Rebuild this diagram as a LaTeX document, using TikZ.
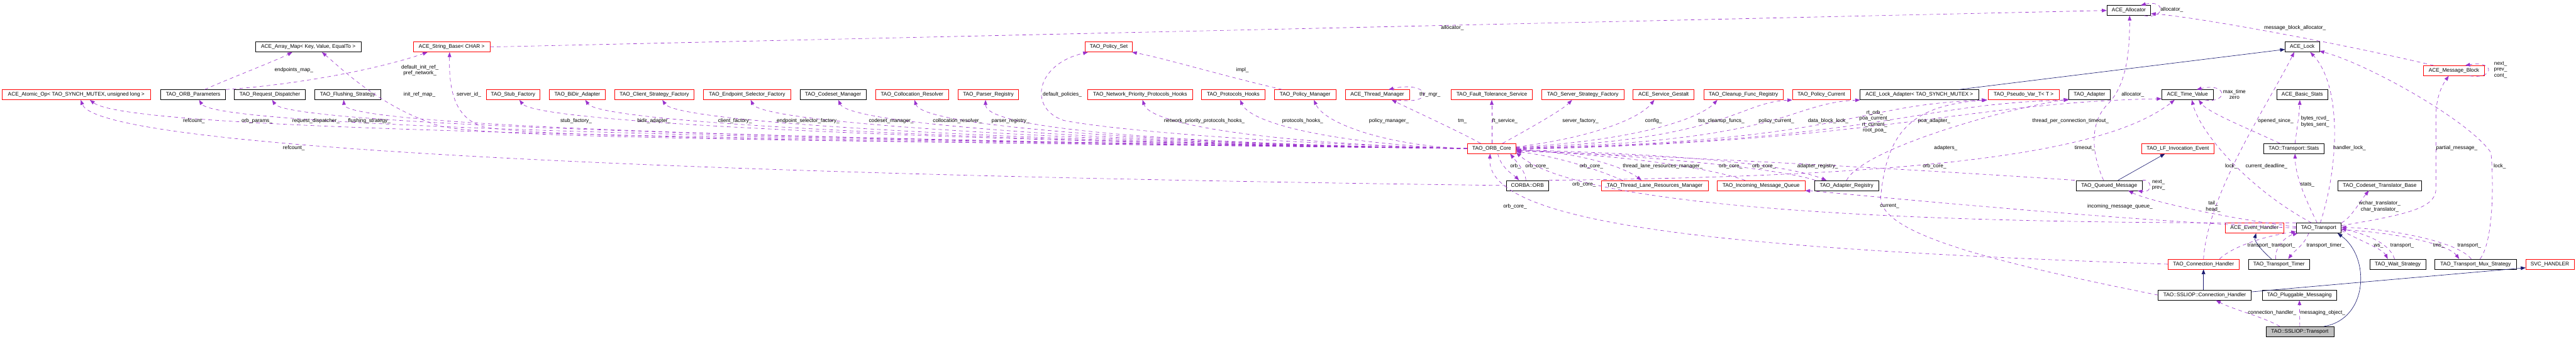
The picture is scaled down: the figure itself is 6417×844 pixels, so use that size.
\documentclass[tikz,border=0pt]{standalone}
\usepackage{fontspec}
\setmainfont{Liberation Sans}
\usetikzlibrary{arrows.meta}
\definecolor{usecol}{HTML}{9A32CD}
\definecolor{isacol}{HTML}{191970}
\definecolor{rootfill}{HTML}{BFBFBF}
\begin{document}
\begin{tikzpicture}[x=1pt, y=-1pt,
      box/.style={draw=black, line width=1pt, minimum height=25pt, inner sep=0pt, font=\fontsize{13}{15}\selectfont},
      redbox/.style={box, draw=red},
      rootbox/.style={box, fill=rootfill},
      member/.style={inner sep=0pt, align=center, font=\fontsize{13}{15}\selectfont},
      uses/.style={usecol, line width=1pt, dash pattern=on 9pt off 8pt, -{Triangle[length=12pt,width=9pt]}},
      isa/.style={isacol, line width=1pt, -{Triangle[length=12pt,width=9pt]}}
   ]
   \useasboundingbox (0,0) rectangle (6417,844);

   \node[box, minimum width=109pt] (allocator) at (5303,26) {ACE\_Allocator};
   \node[box, minimum width=264pt] (arraymap) at (768,117) {ACE\_Array\_Map< Key, Value, EqualTo >};
   \node[redbox, minimum width=191pt] (stringbase) at (1125,117) {ACE\_String\_Base< CHAR >};
   \node[redbox, minimum width=118pt] (policyset) at (2762,117) {TAO\_Policy\_Set};
   \node[box, minimum width=85pt] (acelock) at (5735,117) {ACE\_Lock};
   \node[redbox, minimum width=152pt] (msgblock) at (6113,176) {ACE\_Message\_Block};

   \node[redbox, minimum width=371pt] (atomic) at (190,236) {ACE\_Atomic\_Op< TAO\_SYNCH\_MUTEX, unsigned long >};
   \node[box, minimum width=162pt] (orbparams) at (481,236) {TAO\_ORB\_Parameters};
   \node[box, minimum width=176pt] (reqdisp) at (672,236) {TAO\_Request\_Dispatcher};
   \node[box, minimum width=164pt] (flushing) at (866,236) {TAO\_Flushing\_Strategy};
   \node[redbox, minimum width=134pt] (stubfac) at (1278,236) {TAO\_Stub\_Factory};
   \node[redbox, minimum width=139pt] (bidir) at (1438,236) {TAO\_BiDir\_Adapter};
   \node[redbox, minimum width=198pt] (clientfac) at (1630,236) {TAO\_Client\_Strategy\_Factory};
   \node[redbox, minimum width=217pt] (epsel) at (1861,236) {TAO\_Endpoint\_Selector\_Factory};
   \node[box, minimum width=165pt] (codeset) at (2075,236) {TAO\_Codeset\_Manager};
   \node[redbox, minimum width=182pt] (colloc) at (2272,236) {TAO\_Collocation\_Resolver};
   \node[redbox, minimum width=150pt] (parser) at (2462,236) {TAO\_Parser\_Registry};
   \node[redbox, minimum width=263pt] (netprio) at (2840,236) {TAO\_Network\_Priority\_Protocols\_Hooks};
   \node[redbox, minimum width=158pt] (prothooks) at (3072,236) {TAO\_Protocols\_Hooks};
   \node[redbox, minimum width=153pt] (policymgr) at (3251,236) {TAO\_Policy\_Manager};
   \node[redbox, minimum width=160pt] (thrmgr) at (3431,236) {ACE\_Thread\_Manager};
   \node[redbox, minimum width=202pt] (ftserv) at (3716,236) {TAO\_Fault\_Tolerance\_Service};
   \node[redbox, minimum width=204pt] (serverfac) at (3943,236) {TAO\_Server\_Strategy\_Factory};
   \node[redbox, minimum width=152pt] (gestalt) at (4144,236) {ACE\_Service\_Gestalt};
   \node[redbox, minimum width=197pt] (cleanup) at (4343,236) {TAO\_Cleanup\_Func\_Registry};
   \node[redbox, minimum width=144pt] (polcur) at (4537,236) {TAO\_Policy\_Current};
   \node[box, minimum width=296pt] (lockadapt) at (4781,236) {ACE\_Lock\_Adapter< TAO\_SYNCH\_MUTEX >};
   \node[redbox, minimum width=176pt] (pseudovar) at (5041,236) {TAO\_Pseudo\_Var\_T< T >};
   \node[box, minimum width=103pt] (adapter) at (5205,236) {TAO\_Adapter};
   \node[box, minimum width=128pt] (timeval) at (5449,236) {ACE\_Time\_Value};
   \node[box, minimum width=128pt] (basicstats) at (5735,236) {ACE\_Basic\_Stats};

   \node[redbox, minimum width=121pt] (orbcore) at (3716,370) {TAO\_ORB\_Core};
   \node[redbox, minimum width=180pt] (lfevent) at (5425,370) {TAO\_LF\_Invocation\_Event};
   \node[box, minimum width=150pt] (stats) at (5714,370) {TAO::Transport::Stats};

   \node[box, minimum width=105pt] (corbaorb) at (3805,462) {CORBA::ORB};
   \node[redbox, minimum width=266pt] (tlrm) at (4122,462) {TAO\_Thread\_Lane\_Resources\_Manager};
   \node[redbox, minimum width=219pt] (imq) at (4387,462) {TAO\_Incoming\_Message\_Queue};
   \node[box, minimum width=159pt] (adreg) at (4600,462) {TAO\_Adapter\_Registry};
   \node[box, minimum width=165pt] (queued) at (5254,462) {TAO\_Queued\_Message};
   \node[box, minimum width=209pt] (cstrans) at (5928,462) {TAO\_Codeset\_Translator\_Base};

   \node[redbox, minimum width=145pt] (evhandler) at (5616,568) {ACE\_Event\_Handler};
   \node[box, minimum width=112pt] (transport) at (5776,568) {TAO\_Transport};

   \node[redbox, minimum width=177pt] (connhandler) at (5489,658) {TAO\_Connection\_Handler};
   \node[box, minimum width=153pt] (timer) at (5677,658) {TAO\_Transport\_Timer};
   \node[box, minimum width=140pt] (waitstrat) at (5973,658) {TAO\_Wait\_Strategy};
   \node[box, minimum width=203pt] (muxstrat) at (6167,658) {TAO\_Transport\_Mux\_Strategy};
   \node[redbox, minimum width=120pt] (svchandler) at (6352,658) {SVC\_HANDLER};

   \node[box, minimum width=232pt] (sslconn) at (5492,735) {TAO::SSLIOP::Connection\_Handler};
   \node[box, minimum width=186pt] (pluggable) at (5728,735) {TAO\_Pluggable\_Messaging};
   \node[rootbox, minimum width=169pt] (ssltrans) at (5729,826) {TAO::SSLIOP::Transport};

   \begin{scope}[uses]
      \draw (orbcore.west) .. controls (1940,345) and (330,330) .. ([xshift=34pt]atomic.south);
      \draw (orbcore.west) .. controls (2075,348) and (540,320) .. ([xshift=15pt]orbparams.south);
      \draw (orbcore.west) .. controls (2166,350) and (720,315) .. ([xshift=6pt]reqdisp.south);
      \draw (orbcore.west) .. controls (2255,352) and (862,320) .. ([xshift=-10pt]flushing.south);
      \draw (orbcore.west) .. controls (2000,350) and (1250,345) .. (1100,315) .. controls (950,270) and (850,170) .. ([xshift=34pt]arraymap.south);
      \draw (orbcore.west) .. controls (2000,352) and (1300,340) .. (1200,315) .. controls (1130,290) and (1118,220) .. ([xshift=-5pt]stringbase.south);
      \draw (orbcore.west) .. controls (2475,354) and (1340,310) .. ([xshift=16pt]stubfac.south);
      \draw (orbcore.west) .. controls (2556,355) and (1500,310) .. ([xshift=20pt]bidir.south);
      \draw (orbcore.west) .. controls (2652,356) and (1690,310) .. ([xshift=20pt]clientfac.south);
      \draw (orbcore.west) .. controls (2762,357) and (1900,310) .. ([xshift=9pt]epsel.south);
      \draw (orbcore.west) .. controls (2871,358) and (2120,315) .. ([xshift=13pt]codeset.south);
      \draw (orbcore.west) .. controls (2966,359) and (2300,320) .. ([xshift=6pt]colloc.south);
      \draw (orbcore.west) .. controls (3055,360) and (2455,330) .. ([xshift=-7pt]parser.south);
      \draw (orbcore.west) .. controls (3100,355) and (2750,320) .. (2650,300) .. controls (2560,270) and (2580,160) .. ([xshift=-52pt]policyset.south);
      \draw (orbcore.west) .. controls (3250,361) and (2870,320) .. ([xshift=6pt]netprio.south);
      \draw (orbcore.west) .. controls (3372,362) and (3120,315) .. ([xshift=17pt]prothooks.south);
      \draw (orbcore.west) .. controls (3464,364) and (3300,310) .. ([xshift=22pt]policymgr.south);
      \draw ([xshift=-28pt]orbcore.north) .. controls (3640,330) and (3520,275) .. ([xshift=36pt]thrmgr.south);
      \draw (orbcore.north) -- (ftserv.south);
      \draw ([xshift=27pt]orbcore.north) .. controls (3810,320) and (3890,275) .. ([xshift=-27pt]serverfac.south);
      \draw ([yshift=4pt]orbcore.east) .. controls (3950,345) and (4080,300) .. ([xshift=-23pt]gestalt.south);
      \draw ([yshift=3pt]orbcore.east) .. controls (4100,348) and (4240,290) .. ([xshift=-65pt]cleanup.south);
      \draw ([yshift=2pt]orbcore.east) .. controls (4300,350) and (4330,255) .. (polcur.south west);
      \draw ([yshift=1pt]orbcore.east) .. controls (4460,352) and (4450,258) .. ([xshift=1pt]lockadapt.south west);
      \draw (orbcore.east) .. controls (4620,352) and (4600,262) .. ([xshift=-4pt]pseudovar.south west);
      \draw ([yshift=-1pt]orbcore.east) .. controls (4700,350) and (4750,260) .. (adapter.south west);
      \draw ([yshift=-2pt]orbcore.east) .. controls (4700,352) and (4900,255) .. ([yshift=3pt]timeval.south west);

      \draw (stringbase.east) -- (allocator.west);
      \draw ([xshift=29pt]orbparams.north) .. controls (560,200) and (690,150) .. ([xshift=-40pt]arraymap.south);
      \draw (orbparams.north east) .. controls (750,210) and (950,170) .. ([xshift=-60pt]stringbase.south);
      \draw ([xshift=-57pt]policymgr.north) .. controls (3050,190) and (2900,145) .. ([xshift=58pt]policyset.south);
      \draw ([xshift=50pt]thrmgr.south) .. controls (3580,262) and (3560,200) .. ([xshift=28pt]thrmgr.north);

      \draw ([xshift=15pt]orbcore.south) .. controls (3740,420) and (3770,435) .. ([xshift=-21pt]corbaorb.north);
      \draw ([xshift=-4pt]corbaorb.north) .. controls (3800,425) and (3775,400) .. ([xshift=46pt]orbcore.south);
      \draw (corbaorb.west) .. controls (2000,440) and (250,380) .. ([xshift=11pt]atomic.south);
      \draw (corbaorb.north east) .. controls (4800,440) and (5250,380) .. ([xshift=-32pt]timeval.south);
      \draw ([yshift=-2pt]orbcore.east) .. controls (3950,380) and (4050,420) .. ([xshift=-33pt]tlrm.north);
      \draw ([xshift=-80pt]tlrm.north) .. controls (3950,410) and (3850,385) .. ([yshift=-8pt]orbcore.east);
      \draw ([xshift=-40pt]imq.north) .. controls (4200,400) and (3900,380) .. ([yshift=-5pt]orbcore.east);
      \draw ([xshift=-78pt]adreg.north) .. controls (4400,410) and (3950,380) .. ([yshift=-4pt]orbcore.east);
      \draw ([yshift=-3pt]orbcore.east) .. controls (4200,385) and (4450,410) .. ([xshift=-50pt]adreg.north);
      \draw (adreg.north) .. controls (4640,370) and (5000,270) .. ([yshift=2pt]adapter.south west);
      \draw ([xshift=-3pt]queued.north west) .. controls (4900,430) and (4200,390) .. ([yshift=-6pt]orbcore.east);
      \draw (transport.north west) .. controls (4300,560) and (3880,470) .. ([yshift=-10pt]orbcore.east);
      \draw (connhandler.west) .. controls (4300,620) and (3700,560) .. ([xshift=-4pt]orbcore.south);
      \draw (sslconn.west) .. controls (4950,650) and (4680,580) .. (4685,490) .. controls (4700,330) and (4760,262) .. ([xshift=-2pt]pseudovar.south west);
      \draw (transport.west) .. controls (5200,545) and (4560,478) .. (imq.south east);
      \draw ([yshift=3pt]transport.west) .. controls (5550,545) and (5350,500) .. ([xshift=48pt]queued.south);
      \draw (queued.north east) .. controls (5362,445) and (5362,482) .. ([xshift=-12pt]queued.south east);
      \draw ([xshift=-14pt]queued.north) .. controls (5205,370) and (5210,300) .. (5250,260) .. controls (5300,210) and (5305,120) .. ([xshift=2pt]allocator.south);

      \draw ([xshift=38pt]allocator.south) .. controls (5395,48) and (5395,-2) .. ([xshift=30pt]allocator.north);
      \draw ([xshift=-51pt]msgblock.north) .. controls (5840,110) and (5470,42) .. ([yshift=-8pt]allocator.east);
      \draw ([xshift=44pt]timeval.south) .. controls (5550,258) and (5550,205) .. ([xshift=23pt]timeval.north);
      \draw ([xshift=39pt]msgblock.south) .. controls (6215,198) and (6215,150) .. ([xshift=28pt]msgblock.north);

      \draw ([xshift=3pt]stats.north) .. controls (5722,320) and (5728,280) .. ([xshift=-6pt]basicstats.south);
      \draw ([xshift=-35pt]stats.north) .. controls (5600,320) and (5500,280) .. ([xshift=28pt]timeval.south);
      \draw ([xshift=-18pt]transport.north) .. controls (5600,470) and (5480,330) .. ([xshift=11pt]timeval.south);
      \draw ([xshift=-4pt]transport.north) .. controls (5745,500) and (5718,440) .. ([xshift=3pt]stats.south);
      \draw ([xshift=4pt]transport.north) .. controls (5830,400) and (5830,210) .. ([xshift=20pt]acelock.south);
      \draw (connhandler.north) .. controls (5500,480) and (5650,260) .. ([xshift=-20pt]acelock.south);
      \draw ([xshift=11pt]muxstrat.north) .. controls (6212,600) and (6212,450) .. (6205,380) .. controls (6150,300) and (5900,160) .. ([yshift=3pt]acelock.south east);
      \draw ([yshift=6pt]transport.east) .. controls (5990,535) and (6068,520) .. (6068,470) -- (6068,290) .. controls (6068,240) and (6085,210) .. ([xshift=-13pt]msgblock.south);
      \draw (transport.north east) .. controls (5855,545) and (5880,500) .. ([xshift=-27pt]cstrans.south);
      \draw ([yshift=-6pt]transport.east) .. controls (5880,600) and (5935,620) .. ([xshift=-25pt]waitstrat.north);
      \draw ([xshift=-8pt]waitstrat.north) .. controls (5950,600) and (5880,580) .. ([yshift=-2pt]transport.east);
      \draw ([yshift=-4pt]transport.east) .. controls (5980,580) and (6100,610) .. ([xshift=-41pt]muxstrat.north);
      \draw ([xshift=-11pt]muxstrat.north) .. controls (6120,600) and (5950,570) .. ([yshift=2pt]transport.east);
      \draw ([xshift=40pt]connhandler.north) .. controls (5560,615) and (5640,588) .. ([yshift=4pt]transport.south west);
      \draw ([xshift=-8pt]timer.north) .. controls (5665,620) and (5690,590) .. ([xshift=4pt]transport.south west);
      \draw ([xshift=-25pt]transport.south) .. controls (5740,610) and (5715,625) .. ([xshift=23pt]timer.north);
      \draw ([xshift=-50pt]ssltrans.north) .. controls (5640,790) and (5560,770) .. ([xshift=28pt]sslconn.south);
      \draw (ssltrans.north) -- (pluggable.south);
   \end{scope}

   \begin{scope}[isa]
      \draw ([xshift=99pt]lockadapt.north) -- ([yshift=-6pt]acelock.west);
      \draw ([xshift=22pt]queued.north) -- ([xshift=-32pt]lfevent.south);
      \draw ([xshift=-19pt]timer.north) .. controls (5630,620) and (5615,600) .. ([xshift=4pt]evhandler.south);
      \draw ([xshift=-3pt]sslconn.north) -- (connhandler.south);
      \draw ([yshift=8pt]sslconn.east) -- ([yshift=-9pt]svchandler.west);
      \draw ([xshift=60pt]ssltrans.north) .. controls (5900,795) and (5905,640) .. ([xshift=47pt]transport.south);
   \end{scope}

   \node[member] (l-refcount-a) at (483,302) {refcount\_};
   \node[member] (l-orbparams) at (640,302) {orb\_params\_};
   \node[member] (l-reqdisp) at (787,302) {request\_dispatcher\_};
   \node[member] (l-flushing) at (920,302) {flushing\_strategy\_};
   \node[member] (l-refcount-b) at (732,369) {refcount\_};
   \node[member] (l-endpoints) at (732,174) {endpoints\_map\_};
   \node[member] (l-defref) at (1046,175) {default\_init\_ref\_\\pref\_network\_};
   \node[member] (l-initref) at (1045,235) {init\_ref\_map\_};
   \node[member] (l-serverid) at (1168,235) {server\_id\_};
   \node[member] (l-stubfac) at (1435,302) {stub\_factory\_};
   \node[member] (l-bidir) at (1629,302) {bidir\_adapter\_};
   \node[member] (l-clientfac) at (1831,302) {client\_factory\_};
   \node[member] (l-epsel) at (2013,302) {endpoint\_selector\_factory\_};
   \node[member] (l-codeset) at (2220,302) {codeset\_manager\_};
   \node[member] (l-colloc) at (2385,302) {collocation\_resolver\_};
   \node[member] (l-parser) at (2517,302) {parser\_registry\_};
   \node[member] (l-defpol) at (2646,235) {default\_policies\_};
   \node[member] (l-impl) at (3095,174) {impl\_};
   \node[member] (l-netprio) at (3000,302) {network\_priority\_protocols\_hooks\_};
   \node[member] (l-prothooks) at (3245,302) {protocols\_hooks\_};
   \node[member] (l-policymgr) at (3460,302) {policy\_manager\_};
   \node[member] (l-thrmgr) at (3562,235) {thr\_mgr\_};
   \node[member] (l-tm) at (3643,302) {tm\_};
   \node[member] (l-stralloc) at (3618,70) {allocator\_};
   \node[member] (l-ftserv) at (3749,302) {ft\_service\_};
   \node[member] (l-serverfac) at (3937,302) {server\_factory\_};
   \node[member] (l-config) at (4119,302) {config\_};
   \node[member] (l-cleanup) at (4288,302) {tss\_cleanup\_funcs\_};
   \node[member] (l-polcur) at (4425,302) {policy\_current\_};
   \node[member] (l-dblock) at (4554,302) {data\_block\_lock\_};
   \node[member] (l-pseudo) at (4670,303) {rt\_orb\_\\poa\_current\_\\rt\_current\_\\root\_poa\_};
   \node[member] (l-poaadapt) at (4818,302) {poa\_adapter\_};
   \node[member] (l-tpctimeout) at (5158,302) {thread\_per\_connection\_timeout\_};
   \node[member] (l-qalloc) at (5313,235) {allocator\_};
   \node[member] (l-adapters) at (4847,369) {adapters\_};
   \node[member] (l-timeout) at (5193,369) {timeout\_};
   \node[member] (l-orb) at (3775,414) {orb\_};
   \node[member] (l-oc1) at (3829,414) {orb\_core\_};
   \node[member] (l-oc2) at (3964,414) {orb\_core\_};
   \node[member] (l-tlrm) at (4142,414) {thread\_lane\_resources\_manager\_};
   \node[member] (l-oc3) at (4311,414) {orb\_core\_};
   \node[member] (l-oc4) at (4394,414) {orb\_core\_};
   \node[member] (l-adreg) at (4528,414) {adapter\_registry\_};
   \node[member] (l-oc5) at (4819,414) {orb\_core\_};
   \node[member] (l-oc6) at (3946,460) {orb\_core\_};
   \node[member] (l-oc7) at (3774,514) {orb\_core\_};
   \node[member] (l-current) at (4707,514) {current\_};
   \node[member] (l-imq) at (5281,514) {incoming\_message\_queue\_};
   \node[member] (l-aalloc) at (5410,24) {allocator\_};
   \node[member] (l-mballoc) at (5717,70) {message\_block\_allocator\_};
   \node[member] (l-tvself) at (5566,235) {max\_time\\zero};
   \node[member] (l-opened) at (5669,302) {opened\_since\_};
   \node[member] (l-bytes) at (5767,303) {bytes\_rcvd\_\\bytes\_sent\_};
   \node[member] (l-hlock) at (5853,369) {handler\_lock\_};
   \node[member] (l-chlock) at (5558,414) {lock\_};
   \node[member] (l-deadline) at (5646,414) {current\_deadline\_};
   \node[member] (l-qself) at (5377,461) {next\_\\prev\_};
   \node[member] (l-stats) at (5748,460) {stats\_};
   \node[member] (l-headtail) at (5513,514) {tail\_\\head\_};
   \node[member] (l-chtrans) at (5628,612) {transport\_};
   \node[member] (l-tmtrans) at (5688,612) {transport\_};
   \node[member] (l-tmr) at (5793,612) {transport\_timer\_};
   \node[member] (l-connh) at (5660,779) {connection\_handler\_};
   \node[member] (l-msgobj) at (5786,779) {messaging\_object\_};
   \node[member] (l-mbself) at (6229,174) {next\_\\prev\_\\cont\_};
   \node[member] (l-partial) at (6120,369) {partial\_message\_};
   \node[member] (l-muxlock) at (6227,414) {lock\_};
   \node[member] (l-trans) at (5928,514) {wchar\_translator\_\\char\_translator\_};
   \node[member] (l-ws) at (5925,612) {ws\_};
   \node[member] (l-wstrans) at (5984,612) {transport\_};
   \node[member] (l-tms) at (6075,612) {tms\_};
   \node[member] (l-muxtrans) at (6151,612) {transport\_};
\end{tikzpicture}
\end{document}
